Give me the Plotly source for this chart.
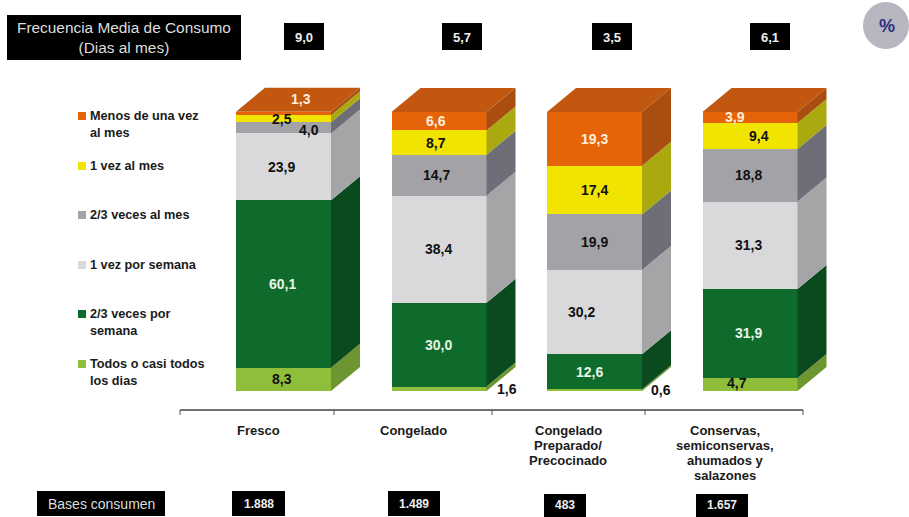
import plotly.graph_objects as go

W, H = 909, 517

products = [["Fresco"], ["Congelado"], ["Congelado", "Preparado/", "Precocinado"],
            ["Conservas,", "semiconservas,", "ahumados y", "salazones"]]
freq_media = ["9,0", "5,7", "3,5", "6,1"]
bases = ["1.888", "1.489", "483", "1.657"]
segments = ["Todos o casi todos<br>los dias", "2/3 veces por<br>semana", "1 vez por semana",
            "2/3 veces al mes", "1 vez al mes", "Menos de una vez<br>al mes"]

todos = [8.3, 1.6, 0.6, 4.7]
tres_semana = [60.1, 30.0, 12.6, 31.9]
una_semana = [23.9, 38.4, 30.2, 31.3]
tres_mes = [4.0, 14.7, 19.9, 18.8]
una_mes = [2.5, 8.7, 17.4, 9.4]
menos = [1.3, 6.6, 19.3, 3.9]
series = [todos, tres_semana, una_semana, tres_mes, una_mes, menos]

front = ["#8fbe3a", "#0f6b2b", "#d9d9dc", "#a3a3a7", "#f0e400", "#e5640a"]
side = ["#6d9530", "#0a4a1e", "#a5a5a8", "#6e6e78", "#aaaa10", "#a94d10"]
text_col = ["#111111", "#e8f5e8", "#111111", "#111111", "#111111", "#ffeedd"]
top_col = "#c2570f"

# pixel nudges of individual value labels (dx, dy), by series then by bar
shifts = [
    [(-2, 0), (68, 0), (66, 0), (-13, -1)],
    [(-1, 0), (-1, 0), (-5, 0), (-2, 0)],
    [(-2, 0), (-1, 0), (-13, 0), (-2, 0)],
    [(25, 2), (-3, 0), (0, 0), (-2, 0)],
    [(-2, 0), (-3, 0), (0, 0), (9, 0)],
    [(17, -15), (-3, 0), (0, 0), (-15, 0)],
]

# geometry of the drawing (px)
bar_px = 155.5
x0_px = 283.5
y0_px = 391.0
full_px = 279.0
depth_x = 29 / bar_px
depth_y = 24 / full_px * 100
bw = 95 / bar_px
xr = [(0 - x0_px) / bar_px, (W - x0_px) / bar_px]
yr = [(y0_px - H) / full_px * 100, y0_px / full_px * 100]
cx = [0, 1, 2, 3]


def px(x, y):
    return dict(x=x / W, y=1 - y / H)


fig = go.Figure()
for k, vals in enumerate(series):
    fig.add_trace(go.Bar(x=cx, y=vals, width=bw, marker=dict(color=front[k], line_width=0),
                         showlegend=False, hoverinfo="skip"))

ann = []
cum = [0.0] * 4
for k, vals in enumerate(series):
    for b in range(4):
        lo, hi = cum[b], cum[b] + vals[b]
        xe = cx[b] + bw / 2
        fig.add_trace(go.Scatter(
            x=[xe, xe, xe + depth_x, xe + depth_x, xe],
            y=[lo, hi, hi + depth_y, lo + depth_y, lo],
            mode="lines", fill="toself", fillcolor=side[k], line=dict(width=0),
            showlegend=False, hoverinfo="skip"))
        dx, dy = shifts[k][b]
        ann.append(dict(x=cx[b], y=(lo + hi) / 2, xref="x", yref="y",
                        text="<b>" + f"{vals[b]:.1f}".replace(".", ",") + "</b>", showarrow=False,
                        xshift=dx, yshift=-dy,
                        font=dict(family="Liberation Sans", size=14, color=text_col[k])))
        cum[b] = hi

for b in range(4):
    t = cum[b]
    xl, xh = cx[b] - bw / 2, cx[b] + bw / 2
    fig.add_trace(go.Scatter(
        x=[xl, xh, xh + depth_x, xl + depth_x, xl],
        y=[t, t, t + depth_y, t + depth_y, t],
        mode="lines", fill="toself", fillcolor=top_col, line=dict(width=0),
        showlegend=False, hoverinfo="skip"))

shapes = []


def box(x1, y1, x2, y2, color="#000000"):
    shapes.append(dict(type="rect", xref="paper", yref="paper", x0=x1 / W, x1=x2 / W,
                       y0=1 - y2 / H, y1=1 - y1 / H, fillcolor=color, line_width=0, layer="below"))


def label(x, y, text, size=11, color="#ffffff", align="center", anchor="center", bold=False):
    ann.append(dict(**px(x, y), xref="paper", yref="paper", text=f"<b>{text}</b>" if bold else text,
                    showarrow=False, align=align, xanchor=anchor, yanchor="middle",
                    font=dict(family="Liberation Sans", size=size, color=color)))


# header boxes
box(7, 15, 241, 60)
label(124, 38, "Frecuencia Media de Consumo<br>(Dias al mes)", size=15.4, color="#dddddd")
for (a, c), txt in zip([(284, 324), (442, 482), (592, 632), (750, 790)], freq_media):
    box(a, 23, c, 50)
    label((a + c) / 2, 37, txt, size=13, color="#eeeeee", bold=True)

# bases boxes
box(37, 491, 165, 516)
label(101, 504, "Bases consumen", size=14, color="#dddddd")
for (a, c, t), txt in zip([(232, 285, 491), (388, 440, 491), (544, 586, 494), (696, 748, 494)], bases):
    box(a, t, c, 516 if t == 491 else 517)
    label((a + c) / 2, (t + 516) / 2, txt, size=12, color="#eeeeee", bold=True)

# percent badge
shapes.append(dict(type="circle", xref="paper", yref="paper", x0=863 / W, x1=909 / W,
                   y0=1 - 49 / H, y1=1 - 2 / H, fillcolor="#b7b7c2", line_width=0, layer="below"))
label(887, 26, "<b>%</b>", size=18, color="#2f2f80")

# category axis rule
for t in [180, 334, 492, 645, 803]:
    shapes.append(dict(type="line", xref="paper", yref="paper", x0=t / W, x1=t / W,
                       y0=1 - 410 / H, y1=1 - 415 / H, line=dict(color="#555555", width=1)))
shapes.append(dict(type="line", xref="paper", yref="paper", x0=180 / W, x1=803 / W,
                   y0=1 - 410 / H, y1=1 - 410 / H, line=dict(color="#444444", width=1.5)))

# category labels
for x, lines in zip([258, 413, 568, 725], products):
    for i, line in enumerate(lines):
        label(x, 430 + i * 15.3, line, size=13, color="#1a1a1a", bold=True)

# legend
for y_sw, y_txt, k in [(116, 124, 5), (166, 166, 4), (215, 215, 3), (265, 265, 2), (314, 322, 1), (364, 372, 0)]:
    box(78, y_sw - 4, 86, y_sw + 4, front[k])
    label(88, y_txt, segments[k], size=12.7, color="#1a1a1a", align="left", anchor="left", bold=True)

fig.update_layout(
    width=W, height=H, margin=dict(l=0, r=0, t=0, b=0), autosize=False,
    paper_bgcolor="#ffffff", plot_bgcolor="rgba(0,0,0,0)", barmode="stack", showlegend=False,
    xaxis=dict(range=xr, visible=False, fixedrange=True),
    yaxis=dict(range=yr, visible=False, fixedrange=True),
    annotations=ann, shapes=shapes,
)
fig.write_html("out.html", config={"displayModeBar": False},
               post_script="document.body.style.margin='0';document.body.style.overflow='hidden';")
